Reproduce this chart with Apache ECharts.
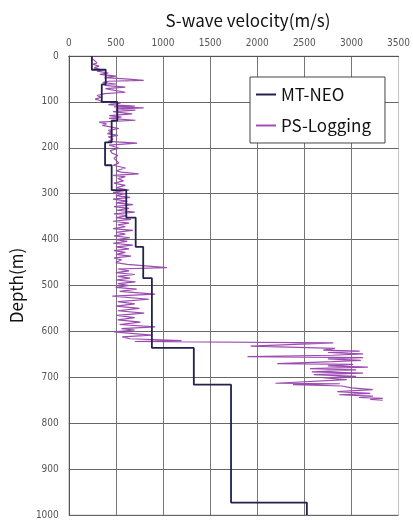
<!DOCTYPE html>
<html>
<head>
<meta charset="utf-8">
<script src="https://cdn.jsdelivr.net/npm/echarts@6/dist/echarts.min.js"></script>
<style>
  html, body { margin: 0; padding: 0; background: #fff; }
  #chart { width: 413px; height: 520px; }
</style>
</head>
<body>
<div id="chart"></div>
<script>
// MT-NEO layered model: layer boundaries (m) and velocity of each layer (m/s)
const mtBounds = [0, 30, 62, 100, 141, 188, 238, 292, 352, 416, 484, 636, 716, 973, 1000];
const mtVel = [245, 392, 350, 515, 455, 385, 455, 610, 710, 790, 882, 1327, 1722, 2527];

// PS-Logging trace: [velocity (m/s), depth (m)]
const psLogging = [
  [250, 0], [240, 5], [262, 8], [245, 12], [300, 15], [255, 18], [320, 22], [270, 26], [350, 30], [300, 33],
  [420, 37], [330, 40], [500, 44], [380, 47], [600, 50], [795, 53], [420, 55], [360, 58], [500, 61], [380, 64],
  [600, 68], [390, 71], [460, 74], [600, 79], [380, 82], [300, 86], [340, 90], [280, 94], [330, 97], [360, 100],
  [550, 103], [420, 106], [700, 109], [480, 111], [795, 113], [500, 115], [707, 118], [470, 121], [672, 126], [430, 130],
  [560, 133], [427, 136], [707, 140], [322, 144], [400, 148], [357, 151], [532, 158], [420, 162], [460, 166], [410, 169],
  [520, 173], [420, 176], [470, 181], [420, 186], [725, 190], [427, 194], [532, 201], [440, 206], [462, 212], [520, 217],
  [480, 223], [532, 233], [470, 238], [602, 244], [500, 250], [560, 253], [742, 257], [470, 260], [600, 263], [520, 267],
  [580, 272], [480, 277], [600, 282], [500, 287], [640, 292], [470, 297], [600, 300], [500, 304], [650, 308], [470, 312],
  [620, 316], [500, 320], [680, 324], [480, 328], [640, 332], [510, 336], [700, 340], [480, 344], [620, 348], [500, 352],
  [660, 356], [470, 360], [640, 364], [520, 368], [600, 372], [470, 376], [680, 380], [500, 384], [600, 388], [480, 392],
  [650, 396], [500, 400], [620, 404], [470, 408], [680, 412], [500, 416], [640, 420], [480, 424], [600, 428], [500, 432],
  [660, 436], [480, 440], [560, 444], [500, 450], [620, 454], [1040, 461], [520, 464], [640, 468], [500, 472], [700, 476],
  [520, 480], [650, 484], [500, 488], [707, 492], [520, 496], [640, 500], [497, 504], [720, 508], [540, 513], [917, 519],
  [462, 523], [850, 530], [520, 535], [700, 540], [500, 545], [750, 550], [520, 555], [800, 560], [510, 565], [700, 570],
  [520, 575], [760, 580], [540, 585], [917, 590], [560, 594], [700, 597], [480, 601], [882, 608], [567, 612], [650, 616],
  [1197, 620], [700, 622], [2807, 625], [1930, 632], [2825, 637], [2700, 641], [3087, 643], [2750, 646], [3122, 649], [2800, 652],
  [1897, 655], [3122, 657], [2750, 660], [3100, 663], [2800, 666], [2212, 670], [3017, 672], [2750, 675], [3174, 678], [2560, 681],
  [3050, 684], [2580, 688], [3122, 691], [2600, 694], [3050, 698], [2700, 701], [2950, 705], [2194, 713], [2877, 714], [2380, 716],
  [2900, 719], [3000, 723], [3227, 727], [2850, 731], [3200, 735], [2870, 738], [3227, 741], [3080, 744], [3332, 746], [3200, 748],
  [3332, 750]
];

const xTicks = [0, 500, 1000, 1500, 2000, 2500, 3000, 3500];
const yTicks = [0, 100, 200, 300, 400, 500, 600, 700, 800, 900, 1000];

// step line for the layered model
const mtData = [];
for (let i = 0; i < mtVel.length; i++) {
  mtData.push([mtVel[i], mtBounds[i]]);
  mtData.push([mtVel[i], mtBounds[i + 1]]);
}

const labelFont = "'Liberation Sans Narrow', 'DejaVu Sans Condensed', sans-serif";
const mainFont = "'Noto Sans CJK JP', 'Noto Sans', sans-serif";

let myChart = echarts.init(document.getElementById('chart'));
let option = {
  animation: false,
  title: {
    text: 'S-wave velocity(m/s)',
    left: 243,
    top: 7,
    textAlign: 'center',
    textStyle: { fontFamily: mainFont, fontSize: 17, fontWeight: 'normal', color: '#111' }
  },
  grid: {
    left: 66, right: 13, top: 56, bottom: 0,
    show: true,
    borderColor: '#c4c4c4',
    borderWidth: 1
  },
  legend: {
    orient: 'vertical',
    left: 250,
    top: 77,
    padding: [9, 14, 9, 6],
    itemGap: 14,
    itemWidth: 20,
    itemHeight: 2,
    icon: 'rect',
    backgroundColor: '#fff',
    borderColor: '#444',
    borderWidth: 1,
    textStyle: { fontFamily: mainFont, fontSize: 17, color: '#111' },
    data: ['MT-NEO', 'PS-Logging']
  },
  xAxis: {
    type: 'value',
    position: 'top',
    min: xTicks[0],
    max: xTicks[xTicks.length - 1],
    interval: 500,
    axisLine: { show: true, lineStyle: { color: '#555', width: 1 } },
    axisTick: { show: false },
    axisLabel: { color: '#555', fontSize: 10, fontFamily: labelFont, margin: 8, formatter: v => String(v) },
    splitLine: { show: true, showMaxLine: false, lineStyle: { color: '#777', width: 1 } }
  },
  yAxis: {
    type: 'value',
    inverse: true,
    min: yTicks[0],
    max: yTicks[yTicks.length - 1],
    interval: 100,
    name: 'Depth(m)',
    nameLocation: 'middle',
    nameRotate: 90,
    nameGap: 34,
    nameTextStyle: { fontFamily: mainFont, fontSize: 17, color: '#111' },
    axisLine: { show: true, lineStyle: { color: '#555', width: 1 } },
    axisTick: { show: false },
    axisLabel: { color: '#555', fontSize: 10, fontFamily: labelFont, margin: 10, formatter: v => String(v) },
    splitLine: { show: true, lineStyle: { color: '#666', width: 1 } }
  },
  series: [
    {
      name: 'MT-NEO',
      type: 'line',
      data: mtData,
      showSymbol: false,
      symbol: 'none',
      color: '#22224c',
      lineStyle: { color: '#22224c', width: 1.8 },
      z: 3
    },
    {
      name: 'PS-Logging',
      type: 'line',
      data: psLogging,
      showSymbol: false,
      symbol: 'none',
      color: '#a050b4',
      lineStyle: { color: '#9c4cb0', width: 1.2 },
      z: 2
    }
  ]
};
myChart.setOption(option);
</script>
</body>
</html>
